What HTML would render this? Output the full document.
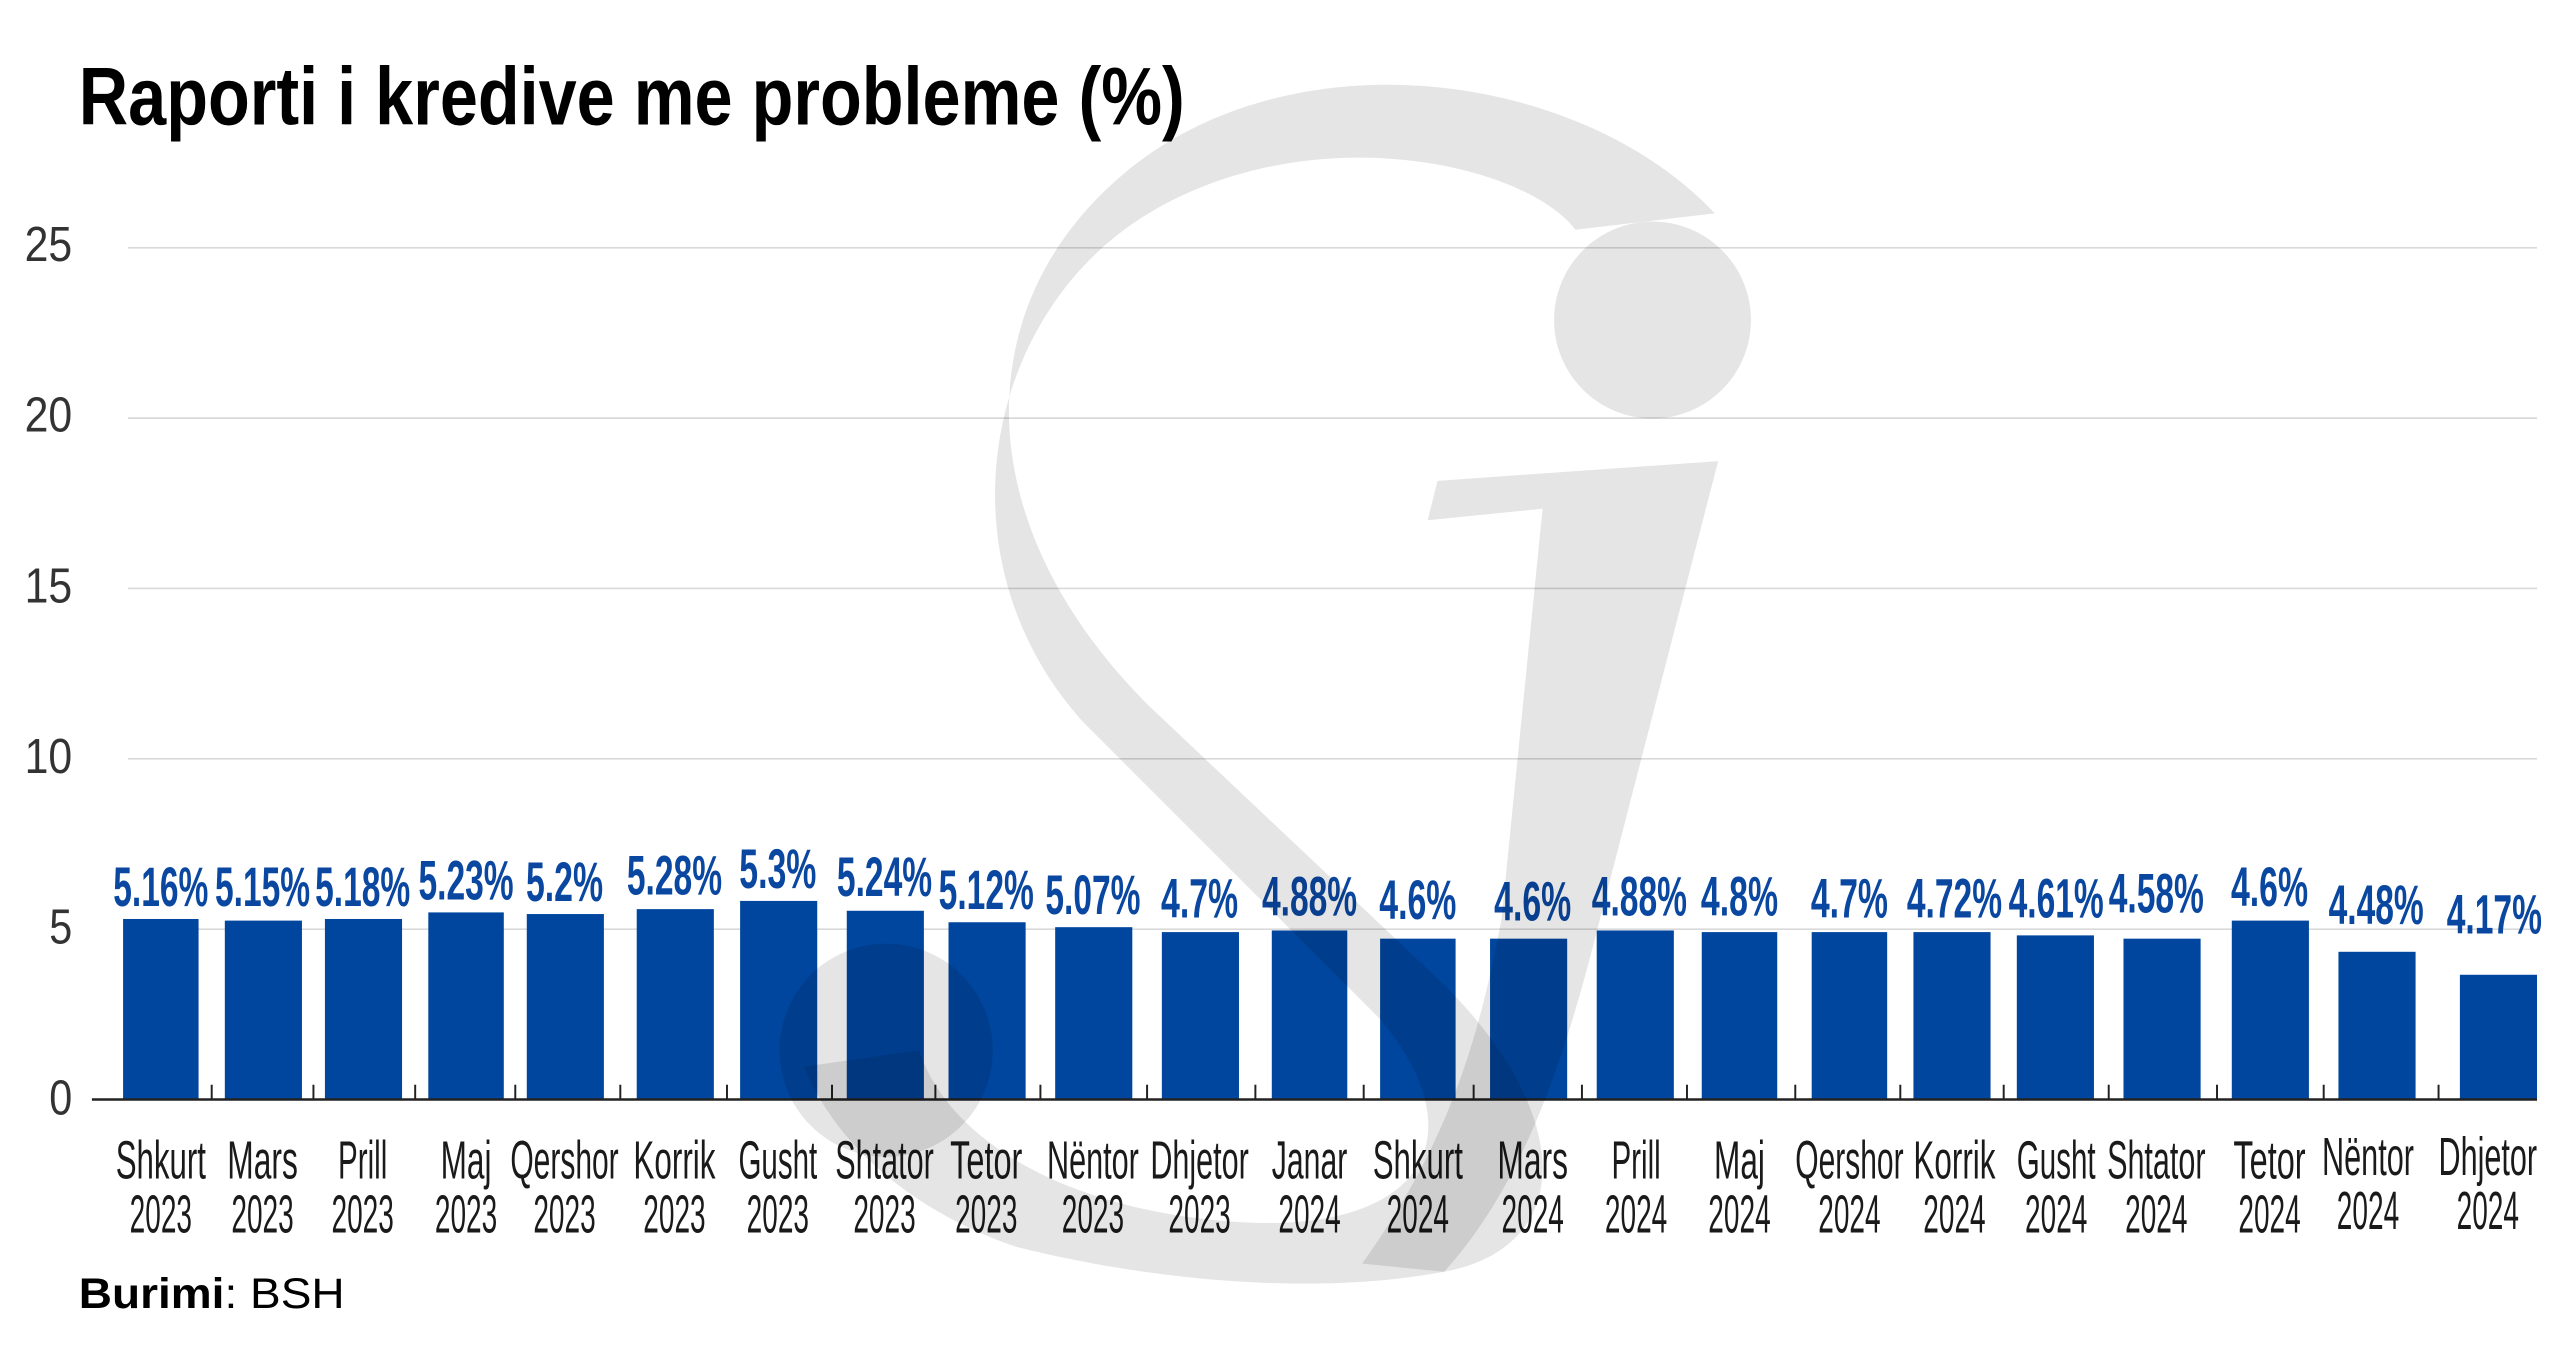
<!DOCTYPE html>
<html><head><meta charset="utf-8"><style>
html,body{margin:0;padding:0;background:#fff;width:2560px;height:1350px;overflow:hidden}
svg{display:block}
.n{font-family:"Liberation Sans",sans-serif}
</style></head><body>
<svg width="2560" height="1350" viewBox="0 0 1560 822.66" xmlns="http://www.w3.org/2000/svg">
<rect width="1560" height="823" fill="#fff"/>
<g stroke="#d9d9d9" stroke-width="1">
<line x1="78" y1="151" x2="1546" y2="151"/>
<line x1="78" y1="254.8" x2="1546" y2="254.8"/>
<line x1="78" y1="358.6" x2="1546" y2="358.6"/>
<line x1="78" y1="462.4" x2="1546" y2="462.4"/>
<line x1="78" y1="566.2" x2="1546" y2="566.2"/>
</g>
<g class="n" font-size="30" fill="#333" text-anchor="end">
<text x="44" y="159" textLength="29" lengthAdjust="spacingAndGlyphs">25</text><text x="44" y="263" textLength="29" lengthAdjust="spacingAndGlyphs">20</text><text x="44" y="367" textLength="29" lengthAdjust="spacingAndGlyphs">15</text><text x="44" y="471" textLength="29" lengthAdjust="spacingAndGlyphs">10</text><text x="44" y="575" textLength="14" lengthAdjust="spacingAndGlyphs">5</text><text x="44" y="679" textLength="14" lengthAdjust="spacingAndGlyphs">0</text>
</g>
<g fill="#00469e">
<rect x="75" y="560" width="46" height="110"/>
<rect x="137" y="561" width="47" height="109"/>
<rect x="198" y="560" width="47" height="110"/>
<rect x="261" y="556" width="46" height="114"/>
<rect x="321" y="557" width="47" height="113"/>
<rect x="388" y="554" width="47" height="116"/>
<rect x="451" y="549" width="47" height="121"/>
<rect x="516" y="555" width="47" height="115"/>
<rect x="578" y="562" width="47" height="108"/>
<rect x="643" y="565" width="47" height="105"/>
<rect x="708" y="568" width="47" height="102"/>
<rect x="775" y="567" width="46" height="103"/>
<rect x="841" y="572" width="46" height="98"/>
<rect x="908" y="572" width="47" height="98"/>
<rect x="973" y="567" width="47" height="103"/>
<rect x="1037" y="568" width="46" height="102"/>
<rect x="1104" y="568" width="46" height="102"/>
<rect x="1166" y="568" width="47" height="102"/>
<rect x="1229" y="570" width="47" height="100"/>
<rect x="1294" y="572" width="47" height="98"/>
<rect x="1360" y="561" width="47" height="109"/>
<rect x="1425" y="580" width="47" height="90"/>
<rect x="1499" y="594" width="47" height="76"/>
</g>
<line x1="56" y1="670" x2="1546" y2="670" stroke="#222" stroke-width="1.5"/>
<g stroke="#222" stroke-width="1.2">
<line x1="129" y1="670" x2="129" y2="661"/><line x1="191" y1="670" x2="191" y2="661"/><line x1="253" y1="670" x2="253" y2="661"/><line x1="314" y1="670" x2="314" y2="661"/><line x1="378" y1="670" x2="378" y2="661"/><line x1="443" y1="670" x2="443" y2="661"/><line x1="507" y1="670" x2="507" y2="661"/><line x1="570" y1="670" x2="570" y2="661"/><line x1="634" y1="670" x2="634" y2="661"/><line x1="699" y1="670" x2="699" y2="661"/><line x1="765" y1="670" x2="765" y2="661"/><line x1="831" y1="670" x2="831" y2="661"/><line x1="898" y1="670" x2="898" y2="661"/><line x1="964" y1="670" x2="964" y2="661"/><line x1="1028" y1="670" x2="1028" y2="661"/><line x1="1094" y1="670" x2="1094" y2="661"/><line x1="1158" y1="670" x2="1158" y2="661"/><line x1="1221" y1="670" x2="1221" y2="661"/><line x1="1285" y1="670" x2="1285" y2="661"/><line x1="1351" y1="670" x2="1351" y2="661"/><line x1="1416" y1="670" x2="1416" y2="661"/><line x1="1486" y1="670" x2="1486" y2="661"/>
</g>
<g class="n" font-size="34" font-weight="bold" fill="#0a47a0" text-anchor="middle">
<text x="98" y="552" textLength="58" lengthAdjust="spacingAndGlyphs">5.16%</text>
<text x="160" y="552" textLength="58" lengthAdjust="spacingAndGlyphs">5.15%</text>
<text x="221" y="552" textLength="58" lengthAdjust="spacingAndGlyphs">5.18%</text>
<text x="284" y="548" textLength="58" lengthAdjust="spacingAndGlyphs">5.23%</text>
<text x="344" y="549" textLength="47" lengthAdjust="spacingAndGlyphs">5.2%</text>
<text x="411" y="545" textLength="58" lengthAdjust="spacingAndGlyphs">5.28%</text>
<text x="474" y="541" textLength="47" lengthAdjust="spacingAndGlyphs">5.3%</text>
<text x="539" y="546" textLength="58" lengthAdjust="spacingAndGlyphs">5.24%</text>
<text x="601" y="554" textLength="58" lengthAdjust="spacingAndGlyphs">5.12%</text>
<text x="666" y="557" textLength="58" lengthAdjust="spacingAndGlyphs">5.07%</text>
<text x="731" y="559" textLength="47" lengthAdjust="spacingAndGlyphs">4.7%</text>
<text x="798" y="558" textLength="58" lengthAdjust="spacingAndGlyphs">4.88%</text>
<text x="864" y="560" textLength="47" lengthAdjust="spacingAndGlyphs">4.6%</text>
<text x="934" y="561" textLength="47" lengthAdjust="spacingAndGlyphs">4.6%</text>
<text x="999" y="558" textLength="58" lengthAdjust="spacingAndGlyphs">4.88%</text>
<text x="1060" y="558" textLength="47" lengthAdjust="spacingAndGlyphs">4.8%</text>
<text x="1127" y="559" textLength="47" lengthAdjust="spacingAndGlyphs">4.7%</text>
<text x="1191" y="559" textLength="58" lengthAdjust="spacingAndGlyphs">4.72%</text>
<text x="1253" y="559" textLength="58" lengthAdjust="spacingAndGlyphs">4.61%</text>
<text x="1314" y="556" textLength="58" lengthAdjust="spacingAndGlyphs">4.58%</text>
<text x="1383" y="552" textLength="47" lengthAdjust="spacingAndGlyphs">4.6%</text>
<text x="1448" y="563" textLength="58" lengthAdjust="spacingAndGlyphs">4.48%</text>
<text x="1520" y="569" textLength="58" lengthAdjust="spacingAndGlyphs">4.17%</text>
</g>
<g class="n" font-size="33" fill="#1a1a1a" text-anchor="middle">
<text x="98" y="718" textLength="55" lengthAdjust="spacingAndGlyphs">Shkurt</text><text x="98" y="751" textLength="38" lengthAdjust="spacingAndGlyphs">2023</text>
<text x="160" y="718" textLength="43" lengthAdjust="spacingAndGlyphs">Mars</text><text x="160" y="751" textLength="38" lengthAdjust="spacingAndGlyphs">2023</text>
<text x="221" y="718" textLength="30" lengthAdjust="spacingAndGlyphs">Prill</text><text x="221" y="751" textLength="38" lengthAdjust="spacingAndGlyphs">2023</text>
<text x="284" y="718" textLength="31" lengthAdjust="spacingAndGlyphs">Maj</text><text x="284" y="751" textLength="38" lengthAdjust="spacingAndGlyphs">2023</text>
<text x="344" y="718" textLength="66" lengthAdjust="spacingAndGlyphs">Qershor</text><text x="344" y="751" textLength="38" lengthAdjust="spacingAndGlyphs">2023</text>
<text x="411" y="718" textLength="50" lengthAdjust="spacingAndGlyphs">Korrik</text><text x="411" y="751" textLength="38" lengthAdjust="spacingAndGlyphs">2023</text>
<text x="474" y="718" textLength="48" lengthAdjust="spacingAndGlyphs">Gusht</text><text x="474" y="751" textLength="38" lengthAdjust="spacingAndGlyphs">2023</text>
<text x="539" y="718" textLength="60" lengthAdjust="spacingAndGlyphs">Shtator</text><text x="539" y="751" textLength="38" lengthAdjust="spacingAndGlyphs">2023</text>
<text x="601" y="718" textLength="44" lengthAdjust="spacingAndGlyphs">Tetor</text><text x="601" y="751" textLength="38" lengthAdjust="spacingAndGlyphs">2023</text>
<text x="666" y="718" textLength="56" lengthAdjust="spacingAndGlyphs">Nëntor</text><text x="666" y="751" textLength="38" lengthAdjust="spacingAndGlyphs">2023</text>
<text x="731" y="718" textLength="60" lengthAdjust="spacingAndGlyphs">Dhjetor</text><text x="731" y="751" textLength="38" lengthAdjust="spacingAndGlyphs">2023</text>
<text x="798" y="718" textLength="46" lengthAdjust="spacingAndGlyphs">Janar</text><text x="798" y="751" textLength="38" lengthAdjust="spacingAndGlyphs">2024</text>
<text x="864" y="718" textLength="55" lengthAdjust="spacingAndGlyphs">Shkurt</text><text x="864" y="751" textLength="38" lengthAdjust="spacingAndGlyphs">2024</text>
<text x="934" y="718" textLength="43" lengthAdjust="spacingAndGlyphs">Mars</text><text x="934" y="751" textLength="38" lengthAdjust="spacingAndGlyphs">2024</text>
<text x="997" y="718" textLength="30" lengthAdjust="spacingAndGlyphs">Prill</text><text x="997" y="751" textLength="38" lengthAdjust="spacingAndGlyphs">2024</text>
<text x="1060" y="718" textLength="31" lengthAdjust="spacingAndGlyphs">Maj</text><text x="1060" y="751" textLength="38" lengthAdjust="spacingAndGlyphs">2024</text>
<text x="1127" y="718" textLength="66" lengthAdjust="spacingAndGlyphs">Qershor</text><text x="1127" y="751" textLength="38" lengthAdjust="spacingAndGlyphs">2024</text>
<text x="1191" y="718" textLength="50" lengthAdjust="spacingAndGlyphs">Korrik</text><text x="1191" y="751" textLength="38" lengthAdjust="spacingAndGlyphs">2024</text>
<text x="1253" y="718" textLength="48" lengthAdjust="spacingAndGlyphs">Gusht</text><text x="1253" y="751" textLength="38" lengthAdjust="spacingAndGlyphs">2024</text>
<text x="1314" y="718" textLength="60" lengthAdjust="spacingAndGlyphs">Shtator</text><text x="1314" y="751" textLength="38" lengthAdjust="spacingAndGlyphs">2024</text>
<text x="1383" y="718" textLength="44" lengthAdjust="spacingAndGlyphs">Tetor</text><text x="1383" y="751" textLength="38" lengthAdjust="spacingAndGlyphs">2024</text>
<text x="1443" y="716" textLength="56" lengthAdjust="spacingAndGlyphs">Nëntor</text><text x="1443" y="749" textLength="38" lengthAdjust="spacingAndGlyphs">2024</text>
<text x="1516" y="716" textLength="60" lengthAdjust="spacingAndGlyphs">Dhjetor</text><text x="1516" y="749" textLength="38" lengthAdjust="spacingAndGlyphs">2024</text>
</g>
<g fill="#000" fill-opacity="0.1" stroke="none">
<path d="M1045 130 C 960 40, 780 20, 680 110 C 590 190, 590 320, 700 430 L 880 600 C 960 680, 960 760, 880 775 C 800 790, 700 780, 620 760 C 560 740, 510 700, 490 650 L 560 640 C 580 700, 660 740, 760 745 C 870 750, 900 690, 840 620 L 660 440 C 570 340, 600 190, 700 130 C 800 70, 930 100, 960 140 Z"/>
<circle cx="1007" cy="195" r="60"/>
<circle cx="540" cy="640" r="65"/>
<path d="M870 317 L876 293 L1047 281 L975 560 C 955 640, 930 720, 880 775 L 830 770 C 880 700, 900 640, 915 560 L 940 310 Z"/>
</g>
<text x="48" y="76" font-family="'Liberation Sans',sans-serif" font-weight="bold" font-size="50" fill="#000" textLength="674" lengthAdjust="spacingAndGlyphs">Raporti i kredive me probleme (%)</text>
<text x="48" y="797" font-family="'Liberation Sans',sans-serif" font-size="26" fill="#000" textLength="162" lengthAdjust="spacingAndGlyphs"><tspan font-weight="bold">Burimi</tspan>: BSH</text>
</svg>
</body></html>
